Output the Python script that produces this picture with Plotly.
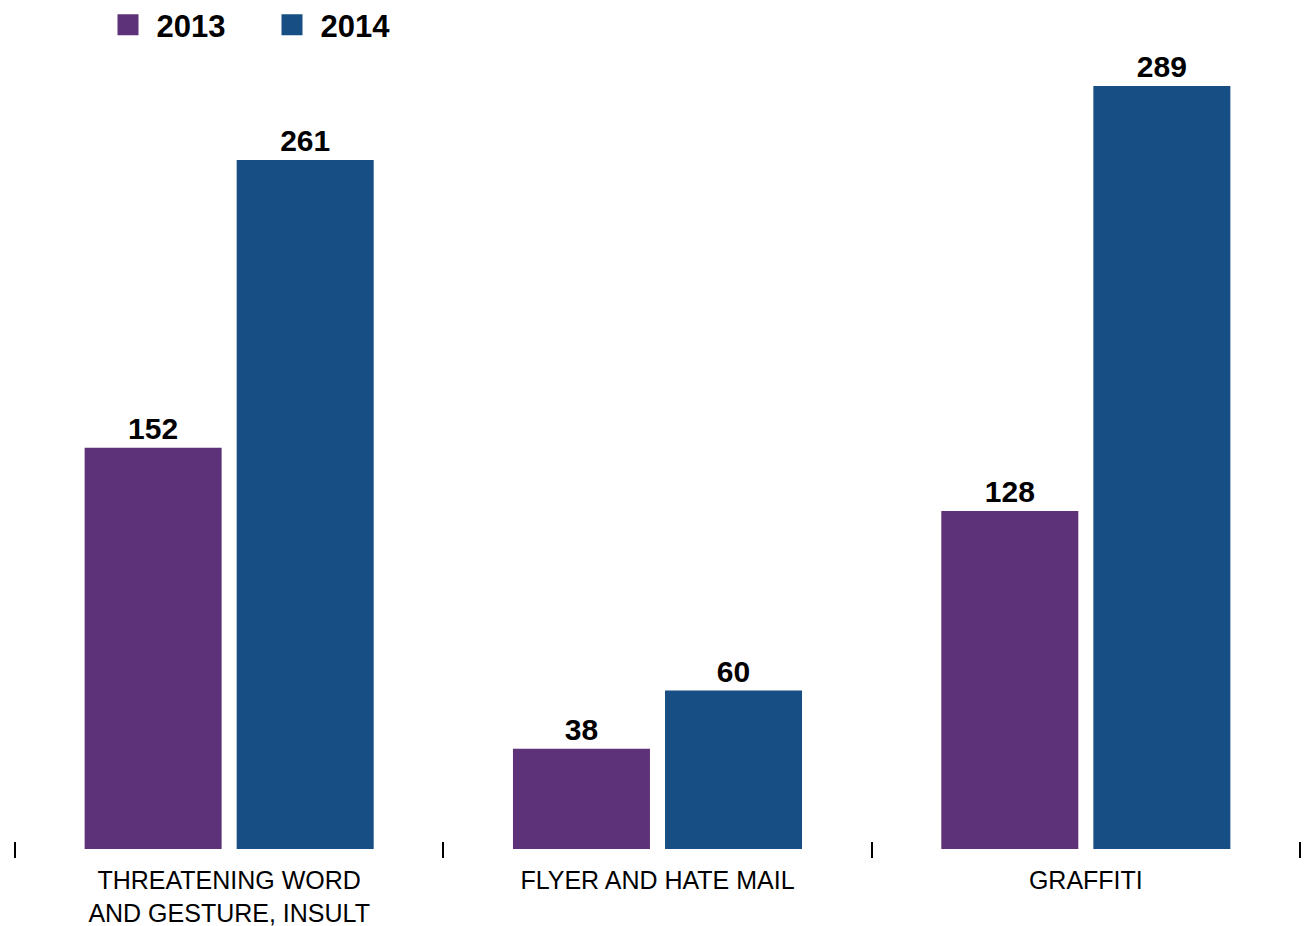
import plotly.graph_objects as go

categories = ["THREATENING WORD<br>AND GESTURE, INSULT", "FLYER AND HATE MAIL", "GRAFFITI"]
years = ["2013", "2014"]
values_2013 = [152, 38, 128]
values_2014 = [261, 60, 289]
colors = {"2013": "#5e3278", "2014": "#174f84"}

FONT = "Liberation Sans, Arial, Helvetica, sans-serif"

fig = go.Figure()
for yr, vals in zip(years, [values_2013, values_2014]):
    fig.add_trace(go.Bar(
        x=categories, y=vals, name=yr,
        marker=dict(color=colors[yr], line=dict(width=0)),
        text=[str(v) for v in vals], textposition="outside",
        textfont=dict(family=FONT, size=30, color="#000000", weight="bold"),
        cliponaxis=False, showlegend=False, legendgroup=yr,
    ))
# legend entries (square swatches)
for yr in years:
    fig.add_trace(go.Scatter(
        x=[categories[0]], y=[None], name="\u00a0" + yr, mode="markers",
        marker=dict(symbol="square", size=16, color=colors[yr],
                    line=dict(width=5, color=colors[yr])),
        legendgroup=yr, showlegend=True, hoverinfo="skip",
    ))

W, H = 1304, 918
fig.update_layout(
    width=W, height=H,
    margin=dict(l=0, r=0, t=50, b=68, autoexpand=False),
    paper_bgcolor="white", plot_bgcolor="white",
    barmode="group", bargap=0.29, bargroupgap=0.099,
    font=dict(family=FONT, color="#000000"),
    showlegend=True,
    legend=dict(orientation="h", x=100 / W, xanchor="left", xref="container",
                y=1 - 17 / H, yanchor="middle", yref="container",
                font=dict(family=FONT, size=31, color="#000000", weight="bold"),
                entrywidth=119, entrywidthmode="pixels", itemsizing="trace",
                bgcolor="rgba(0,0,0,0)"),
    xaxis=dict(showgrid=False, showline=False, zeroline=False, automargin=False,
               range=[-0.5163, 2.528],
               ticks="inside", tickson="boundaries", ticklen=16, tickwidth=2,
               tickcolor="#000000", ticklabelstandoff=5,
               tickfont=dict(family=FONT, size=25, color="#000000")),
    yaxis=dict(visible=False, range=[-3.41, 299.6], showgrid=False, zeroline=False,
               automargin=False),
)

fig.write_html("out.html")
